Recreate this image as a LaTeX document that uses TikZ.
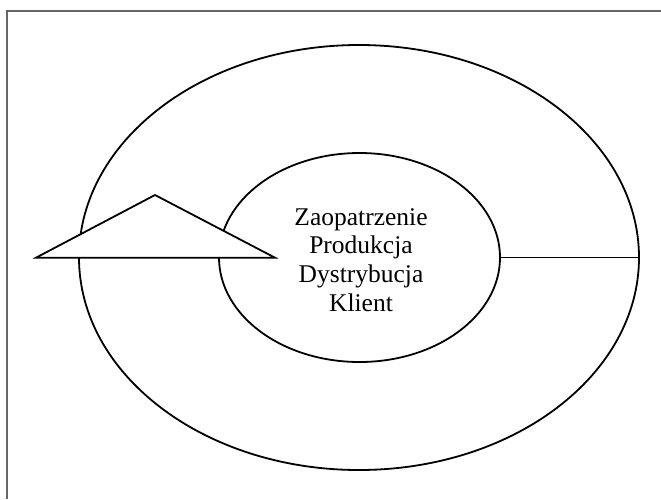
\documentclass[tikz,border=0pt]{standalone}
\usepackage{fontspec}
\setmainfont{Liberation Serif}
\usetikzlibrary{shapes.geometric}
\begin{document}
\begin{tikzpicture}[x=1pt,y=-1pt,
  ring/.style={draw=black, line width=1.8pt, ellipse, inner sep=0pt},
  link/.style={draw=black, line width=1.8pt},
  frameline/.style={draw=black!60, line width=1.2pt},
  label/.style={font=\fontsize{25.5}{28.6}\selectfont, align=center, inner sep=0pt}]
\useasboundingbox (0,0) rectangle (661,499);
\fill[white] (0,0) rectangle (661,499);
\draw[frameline] (661,11) -- (7,11) -- (7,499);
\node[ring, minimum width=560pt, minimum height=425pt] (outer) at (359,257.5) {};
\node[ring, minimum width=281pt, minimum height=209pt] (inner) at (359.5,257.5) {};
\node[label, anchor=base] (txt) at (361,311) {Zaopatrzenie\\Produkcja\\Dystrybucja\\Klient};
\draw[link] (inner.east) -- (outer.east);
\filldraw[fill=white, draw=black, line width=1.8pt, line join=miter] (36,257.7) -- (155,195) -- (275,257.7) -- cycle;
\end{tikzpicture}
\end{document}
